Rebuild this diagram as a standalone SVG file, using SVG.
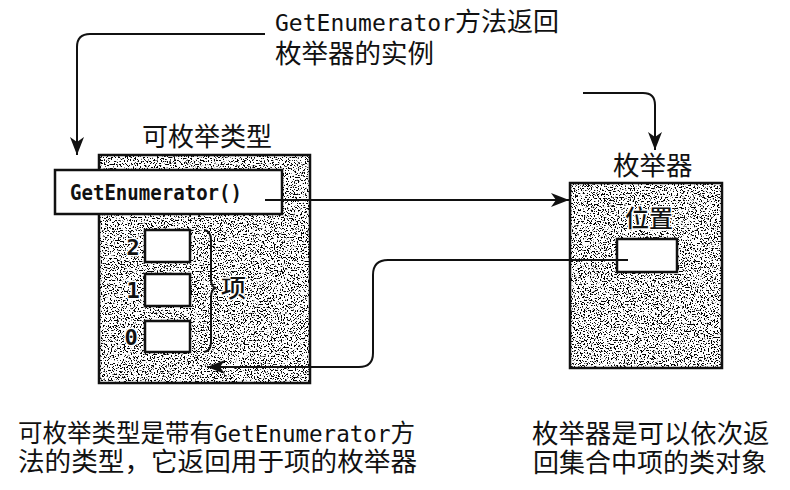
<svg xmlns="http://www.w3.org/2000/svg" width="790" height="490" viewBox="0 0 790 490">
<style>
.cjk{font-family:"Noto Sans CJK SC","Noto Sans",sans-serif;fill:#111}
.mono{font-family:"DejaVu Sans Mono","Liberation Mono",monospace}
.halo{paint-order:stroke;stroke:#fff;stroke-width:3;stroke-linejoin:round}
.box{fill:none;stroke:#111;stroke-width:2.5}
.wbox{fill:#fff;stroke:#111;stroke-width:2.5}
.conn{fill:none;stroke:#111;stroke-width:2;marker-end:url(#ah)}
</style>
<defs>
<filter id="speck" x="0" y="0" width="1" height="1" color-interpolation-filters="sRGB">
<feTurbulence type="fractalNoise" baseFrequency="0.7" numOctaves="3" seed="7" result="n"/>
<feColorMatrix in="n" type="matrix" values="0 0 0 0 0  0 0 0 0 0  0 0 0 0 0  -16 0 0 0 7.1" result="d"/>
<feFlood flood-color="#fff" result="w"/>
<feMerge><feMergeNode in="w"/><feMergeNode in="d"/></feMerge>
</filter>
<marker id="ah" markerUnits="userSpaceOnUse" markerWidth="20" markerHeight="16" refX="18" refY="8" orient="auto">
<path d="M0,1 L18,8 L0,15 L5,8 z" fill="#111"/>
</marker>
</defs>
<rect width="790" height="490" fill="#fff"/>

<g id="enumerable">
<text class="cjk" x="142" y="146" font-size="26">可枚举类型</text>
<rect x="99" y="155" width="211" height="228" fill="#000" filter="url(#speck)"/>
<rect class="box" x="99" y="155" width="211" height="228"/>
<rect class="wbox" x="55" y="170" width="227" height="44"/>
<text class="mono" x="70" y="200" font-size="21" font-weight="bold" fill="#111" textLength="172" lengthAdjust="spacingAndGlyphs">GetEnumerator()</text>
<rect class="wbox" x="145" y="230" width="45" height="32"/>
<rect class="wbox" x="145" y="274" width="45" height="32"/>
<rect class="wbox" x="145" y="321" width="45" height="31"/>
<text class="mono halo" x="133" y="255" font-size="22" font-weight="bold" text-anchor="middle" fill="#111">2</text>
<text class="mono halo" x="133" y="298" font-size="22" font-weight="bold" text-anchor="middle" fill="#111">1</text>
<text class="mono halo" x="131" y="345" font-size="22" font-weight="bold" text-anchor="middle" fill="#111">0</text>
<path d="M204,230 Q211,231 211,240 V279 Q211,287 216,288 Q211,289 211,297 V342 Q211,351 204,352" fill="none" stroke="#111" stroke-width="2"/>
<text class="cjk halo" x="221" y="297" font-size="25" font-weight="500">项</text>
</g>

<g id="enumerator">
<text class="cjk" x="613" y="175" font-size="26.5">枚举器</text>
<rect x="570" y="183" width="152" height="185" fill="#000" filter="url(#speck)"/>
<rect class="box" x="570" y="183" width="152" height="185"/>
<text class="cjk halo" x="625" y="227" font-size="24" font-weight="500">位置</text>
<rect class="wbox" x="617" y="239" width="60" height="33"/>
</g>

<g id="connectors">
<path class="conn" d="M265,34 H90 Q77,34 77,47 V155"/>
<path class="conn" d="M583,93 H643 Q655,93 655,105 V150"/>
<path class="conn" d="M265,200 H569"/>
<path class="conn" d="M628,260 H388 Q373,260 373,275 V353 Q373,367 359,367 H207"/>
</g>

<g id="note-top">
<text class="cjk" x="275" y="31" font-size="26"><tspan class="mono" font-size="23">GetEnumerator</tspan>方法返回</text>
<text class="cjk" x="275" y="63" font-size="26.5">枚举器的实例</text>
</g>

<g id="note-left">
<text class="cjk" x="18" y="442" font-size="25" textLength="397" lengthAdjust="spacingAndGlyphs">可枚举类型是带有<tspan class="mono" font-size="23">GetEnumerator</tspan>方</text>
<text class="cjk" x="18" y="471" font-size="26" textLength="399" lengthAdjust="spacingAndGlyphs">法的类型，它返回用于项的枚举器</text>
</g>

<g id="note-right">
<text class="cjk" x="532" y="443" font-size="26.4">枚举器是可以依次返</text>
<text class="cjk" x="533" y="472" font-size="26">回集合中项的类对象</text>
</g>
</svg>
